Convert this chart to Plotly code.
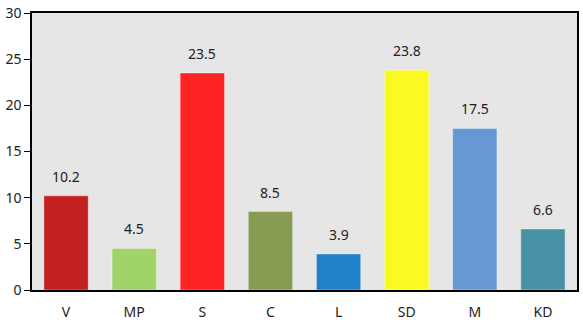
import plotly.graph_objects as go

categories = ["V", "MP", "S", "C", "L", "SD", "M", "KD"]
values = [10.2, 4.5, 23.5, 8.5, 3.9, 23.8, 17.5, 6.6]
colors = ["#c42222", "#a0d468", "#ff2424", "#889b52", "#2080c8", "#fafa22", "#6699d4", "#4992a6"]
y_ticks = [0, 5, 10, 15, 20, 25, 30]

fig = go.Figure()
fig.add_trace(go.Bar(
    x=categories, y=values,
    marker=dict(color=colors, line=dict(color="rgba(255,255,255,0.35)", width=1)),
    width=0.65,
    hoverinfo="skip",
))
for c, v in zip(categories, values):
    fig.add_annotation(x=c, y=v, text=f"{v}", showarrow=False, yanchor="bottom",
                       yshift=8, font=dict(size=14, color="#222222"))

fig.update_layout(
    width=583, height=320,
    margin=dict(l=32, r=6, t=13, b=30),
    paper_bgcolor="white", plot_bgcolor="#e6e6e6",
    font=dict(family="Noto Sans, Open Sans, sans-serif", size=14, color="#222222"),
    showlegend=False,
    bargap=0.35,
)
fig.update_xaxes(showline=True, linecolor="black", linewidth=1.5, mirror=True,
                 showgrid=False, ticks="", tickfont=dict(size=14), ticklabelstandoff=8,
                 automargin=False)
fig.update_yaxes(range=[0, 30], tickvals=y_ticks, showline=True, linecolor="black",
                 linewidth=1.5, mirror=True, showgrid=False, zeroline=False,
                 ticks="outside", ticklen=6, tickcolor="black", tickfont=dict(size=14),
                 automargin=False)

fig.write_html("out.html")
